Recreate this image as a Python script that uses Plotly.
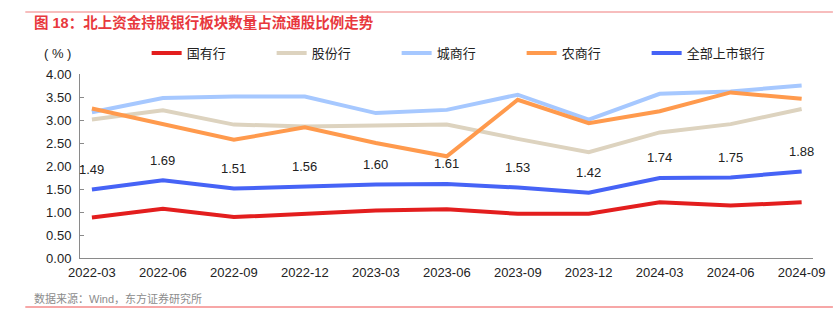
import plotly.graph_objects as go

categories = ["2022-03", "2022-06", "2022-09", "2022-12", "2023-03", "2023-06",
              "2023-09", "2023-12", "2024-03", "2024-06", "2024-09"]
guoyou = [0.88, 1.07, 0.89, 0.96, 1.03, 1.06, 0.96, 0.96, 1.21, 1.14, 1.21]
gufen = [3.01, 3.21, 2.90, 2.86, 2.88, 2.90, 2.59, 2.30, 2.73, 2.91, 3.24]
chengshang = [3.17, 3.48, 3.51, 3.51, 3.15, 3.22, 3.55, 3.01, 3.57, 3.62, 3.75]
nongshang = [3.25, 2.90, 2.57, 2.84, 2.50, 2.21, 3.44, 2.93, 3.19, 3.60, 3.46]
quanbu = [1.49, 1.69, 1.51, 1.56, 1.60, 1.61, 1.53, 1.42, 1.74, 1.75, 1.88]
y_ticks = [0, 0.5, 1.0, 1.5, 2.0, 2.5, 3.0, 3.5, 4.0]

FONT = "Liberation Sans, Arial, Noto Sans CJK SC, sans-serif"
xs = list(range(len(categories)))

series = [
    ("国有行", guoyou, "#E31E1E"),
    ("股份行", gufen, "#DDD3BF"),
    ("城商行", chengshang, "#A6C8FF"),
    ("农商行", nongshang, "#FF9A4D"),
    ("全部上市银行", quanbu, "#4663F6"),
]

fig = go.Figure()
for name, vals, color in series:
    fig.add_trace(go.Scatter(x=xs, y=vals, name=name, mode="lines",
                             line=dict(color=color, width=4)))

annotations = []
for x, v in zip(xs, quanbu):
    annotations.append(dict(x=x, y=v, xref="x", yref="y", text=f"{v:.2f}",
                            showarrow=False, yshift=20,
                            font=dict(size=13, color="#222", family=FONT)))

W, H = 837, 330
ml, mr, mt, mb = 80, 20, 74, 72
pw, ph = W - ml - mr, H - mt - mb

def px(xp):
    return (xp - ml) / pw

def py(yp):
    return (H - mb - yp) / ph

annotations.append(dict(x=px(42), y=py(53), xref="paper", yref="paper",
                        xanchor="left", yanchor="middle", text="( % )",
                        showarrow=False,
                        font=dict(size=13, color="#222", family=FONT)))
annotations.append(dict(x=px(32), y=py(22), xref="paper", yref="paper",
                        xanchor="left", yanchor="middle",
                        text="<b>图 18：北上资金持股银行板块数量占流通股比例走势</b>",
                        showarrow=False,
                        font=dict(size=14.5, color="#E8383D", family=FONT)))
annotations.append(dict(x=px(32), y=py(298), xref="paper", yref="paper",
                        xanchor="left", yanchor="middle",
                        text="数据来源：Wind，东方证券研究所",
                        showarrow=False,
                        font=dict(size=11, color="#8C8C8C", family=FONT)))

shapes = [
    dict(type="line", xref="paper", yref="paper", x0=px(25), x1=px(837),
         y0=py(12), y1=py(12), line=dict(color="#F07C7C", width=1.2)),
    dict(type="line", xref="paper", yref="paper", x0=px(25), x1=px(837),
         y0=py(307), y1=py(307), line=dict(color="#F05050", width=1.2)),
]

fig.update_layout(
    width=W, height=H,
    margin=dict(l=ml, r=mr, t=mt, b=mb),
    paper_bgcolor="white", plot_bgcolor="white",
    font=dict(family=FONT, size=13, color="#222"),
    showlegend=True,
    legend=dict(orientation="h", x=px(147), y=py(53), xanchor="left",
                yanchor="middle", entrywidth=80, font=dict(size=13),
                bgcolor="rgba(0,0,0,0)"),
    xaxis=dict(range=[-0.168, 10.16], tickvals=xs, ticktext=categories,
               ticks="", showgrid=False, zeroline=False, showline=True,
               linecolor="#8A8A8A", linewidth=1, ticklabelstandoff=2,
               tickfont=dict(size=13, color="#222")),
    xaxis2=dict(overlaying="x", anchor="y", side="bottom",
                range=[-0.168, 10.16], tickvals=[i + 0.84 for i in range(10)],
                showticklabels=False, ticks="inside", ticklen=4,
                tickcolor="#8A8A8A", showgrid=False, zeroline=False,
                showline=False),
    yaxis=dict(range=[0, 4], tickvals=y_ticks, tickformat=".2f",
               ticks="inside", ticklen=4, tickcolor="#8A8A8A",
               showgrid=False, zeroline=False, showline=True,
               linecolor="#8A8A8A", linewidth=1, ticklabelstandoff=5,
               tickfont=dict(size=13, color="#222")),
    annotations=annotations,
    shapes=shapes,
)

fig.write_html("out.html")
